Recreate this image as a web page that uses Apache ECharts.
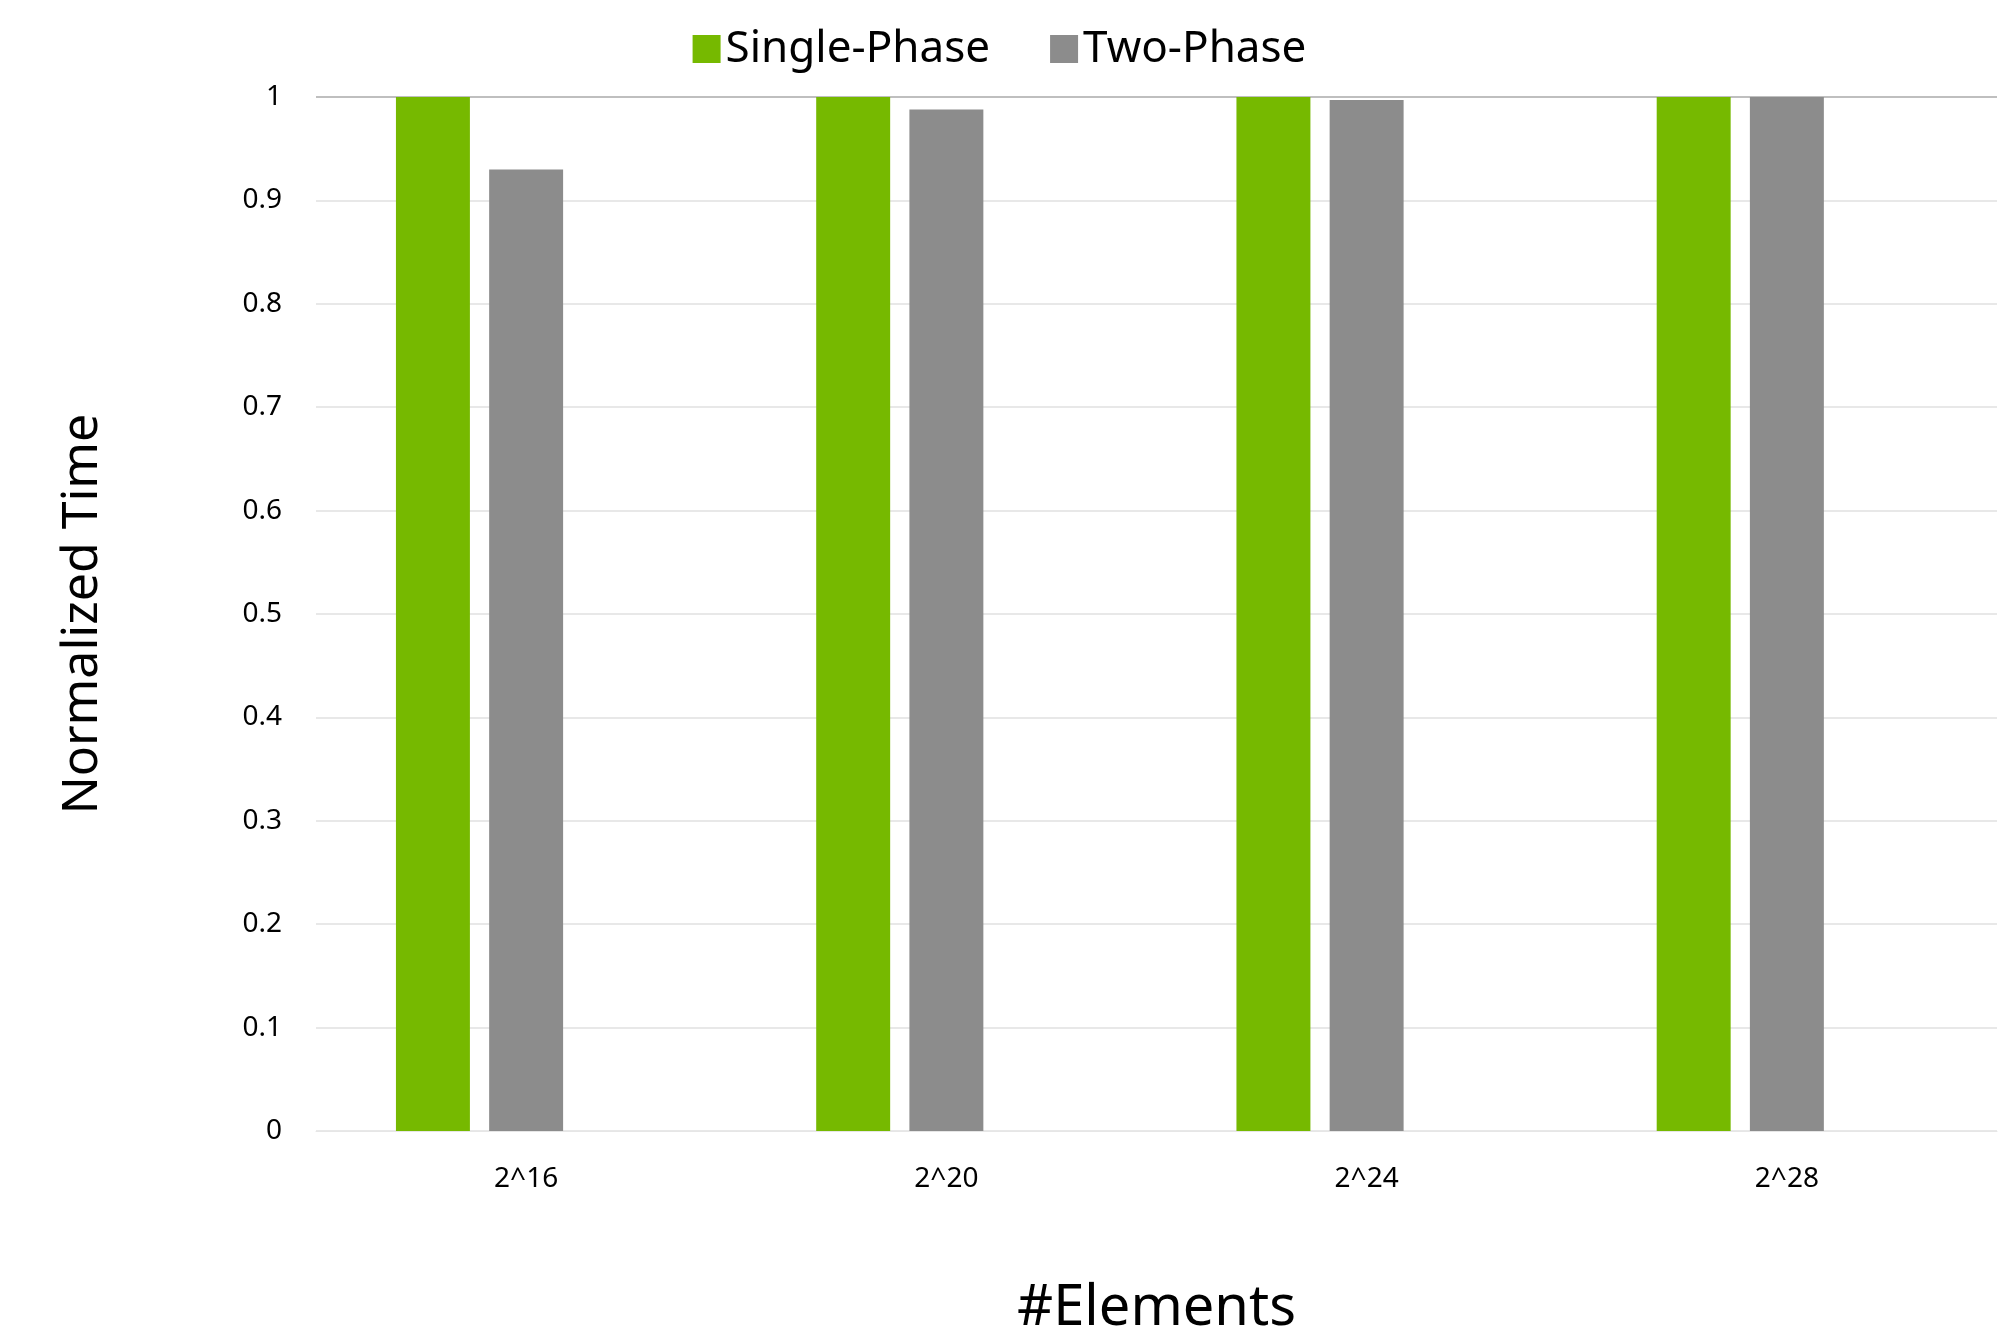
<!DOCTYPE html>
<html>
<head>
<meta charset="utf-8">
<script src="https://cdn.jsdelivr.net/npm/echarts@6/dist/echarts.min.js"></script>
<style>html,body{margin:0;padding:0;background:#fff}#chart{width:1999px;height:1342px}</style>
</head>
<body>
<div id="chart"></div>
<script>
const categories = ['2^16', '2^20', '2^24', '2^28'];
const singlePhase = [1, 1, 1, 1];
const twoPhase = [0.93, 0.988, 0.997, 1.0];
const yTicks = [0, 0.1, 0.2, 0.3, 0.4, 0.5, 0.6, 0.7, 0.8, 0.9, 1];

const font = 'Noto Sans, sans-serif';
const chart = echarts.init(document.getElementById('chart'));
chart.setOption({
  animation: false,
  legend: {
    data: ['Single-Phase', 'Two-Phase'],
    top: 22,
    left: 'center',
    itemWidth: 28, itemHeight: 28, itemGap: 60,
    icon: 'rect',
    textStyle: { fontSize: 44, fontFamily: font, color: '#000' }
  },
  grid: { left: 316, right: 2, top: 97, bottom: 210 },
  xAxis: {
    type: 'category',
    data: categories,
    name: '#Elements',
    nameLocation: 'middle',
    nameGap: 150,
    nameTextStyle: { fontSize: 56, fontFamily: font, color: '#000' },
    axisLine: { lineStyle: { color: '#e6e6e6' } },
    axisTick: { show: false },
    axisLabel: { fontSize: 28, fontFamily: font, color: '#000', margin: 34 }
  },
  yAxis: {
    type: 'value',
    min: 0, max: 1, interval: 0.1,
    name: 'Normalized Time',
    nameLocation: 'middle',
    nameGap: 208,
    nameTextStyle: { fontSize: 50, fontFamily: font, color: '#000' },
    axisLine: { show: false },
    axisTick: { show: false },
    axisLabel: {
      fontSize: 28, fontFamily: font, color: '#000', margin: 34,
      formatter: v => String(yTicks.find(t => Math.abs(t - v) < 1e-9) ?? v)
    },
    splitLine: { lineStyle: { color: '#e0e0e0', width: 1.5 } }
  },
  series: [
    { name: 'Single-Phase', type: 'bar', data: singlePhase, barWidth: '17.6%', barGap: '26%', barCategoryGap: '38%', itemStyle: { color: '#76b900' } },
    { name: 'Two-Phase', type: 'bar', data: twoPhase, barWidth: '17.6%', itemStyle: { color: '#8c8c8c' } },
    { name: 'spacer', type: 'bar', data: [null, null, null, null], barWidth: '17.6%' }
  ]
});
chart.setOption({
  graphic: [{
    type: 'line', silent: true,
    shape: { x1: 316, y1: 97, x2: 1997, y2: 97 },
    style: { stroke: '#bfbfbf', lineWidth: 2 }
  }]
});
</script>
</body>
</html>
